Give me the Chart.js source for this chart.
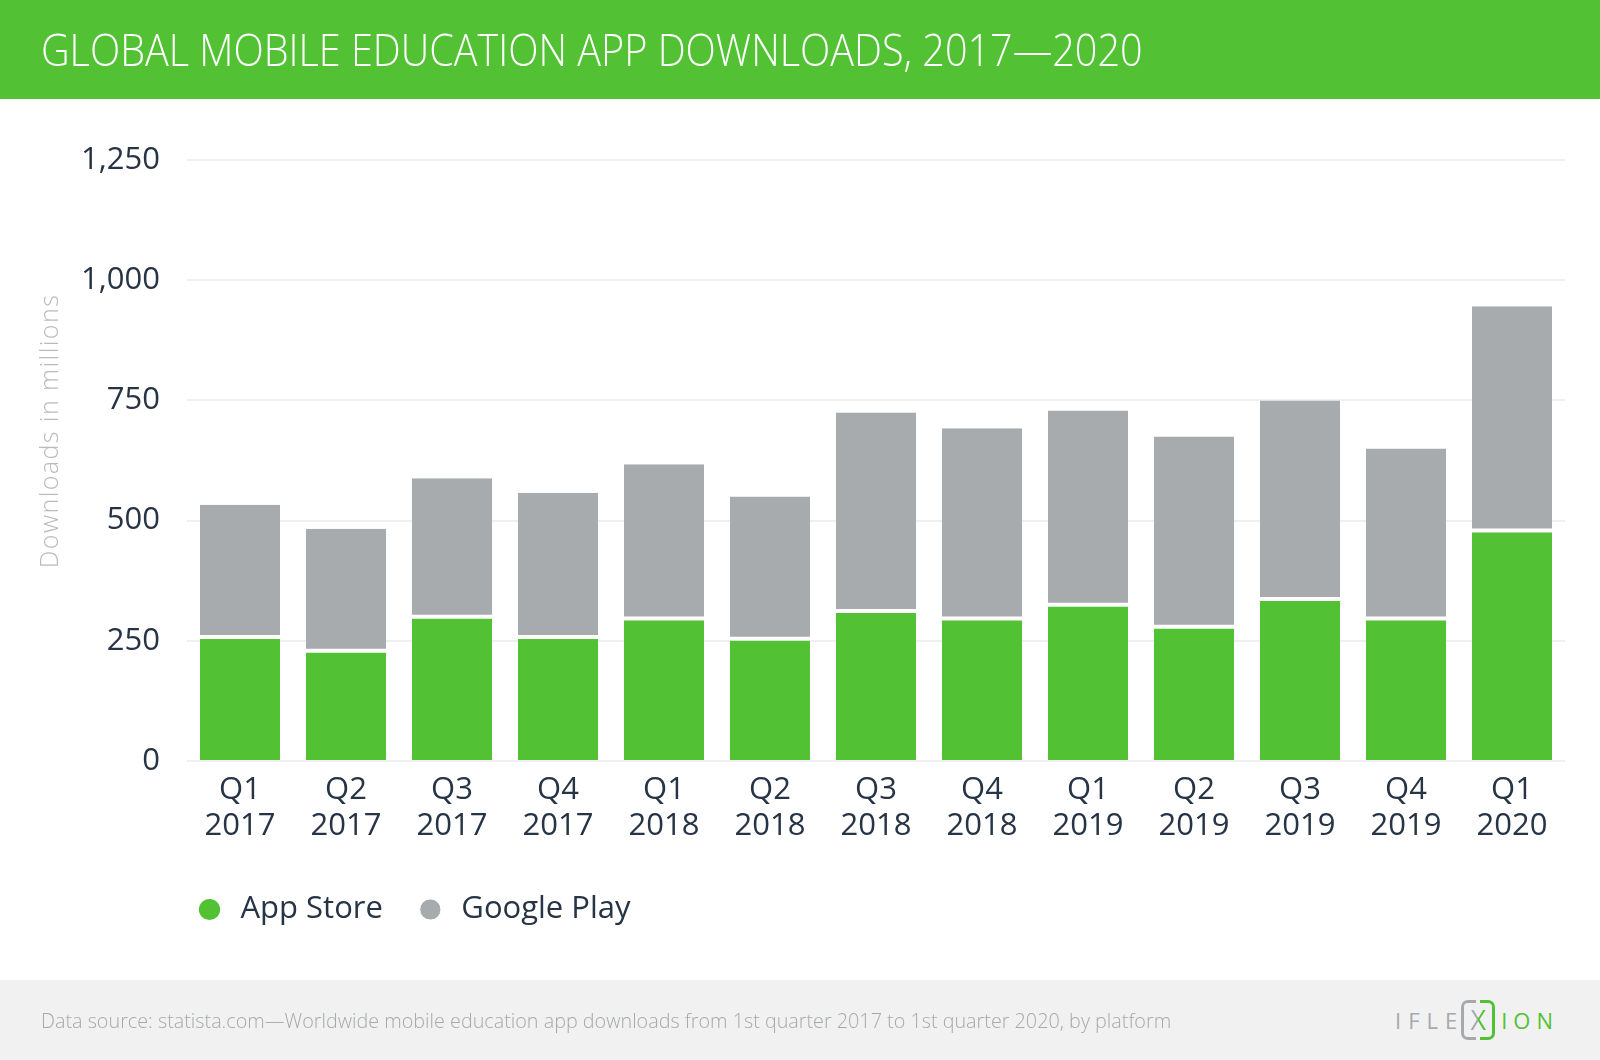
<!DOCTYPE html>
<html>
<head>
<meta charset="utf-8">
<script src="https://cdn.jsdelivr.net/npm/chart.js@4.4.1/dist/chart.umd.min.js"></script>
<style>
  html, body { margin: 0; padding: 0; background: #fff; }
  body { width: 1600px; height: 1060px; position: relative; overflow: hidden; font-family: "Open Sans", sans-serif; }
  #header { position: absolute; left: 0; top: 0; width: 1600px; height: 99px; background: #52c234; }
  #title { position: absolute; left: 41px; top: 27px; color: #fff; font-weight: 300; font-size: 45px; line-height: 44px; white-space: nowrap; transform-origin: left center; }
  #chartBox { position: absolute; left: 0; top: 100px; width: 1600px; height: 880px; }
  #footer { position: absolute; left: 0; top: 980px; width: 1600px; height: 80px; background: #f1f1f1; }
  #source { position: absolute; left: 41px; top: 31px; color: #a6a9ab; font-weight: 300; font-size: 20px; line-height: 20px; white-space: nowrap; transform-origin: left center; }
  #logo { position: absolute; left: 1395px; top: 20px; height: 40px; display: flex; align-items: center; font-size: 22px; font-weight: 400; }
  #logo .g { color: #a6a9ab; letter-spacing: 7px; }
  #logo .n { color: #52c234; letter-spacing: 6px; }
  #logo .x { position: relative; display: inline-block; width: 34px; height: 40px; margin: 0 6px 0 -3px; }
  #logo .lb { position: absolute; left: 0; top: 0; width: 12px; height: 34px; border: 3px solid #a6a9ab; border-right: none; border-radius: 7px 0 0 7px; }
  #logo .rb { position: absolute; right: 0; top: 0; width: 12px; height: 34px; border: 3px solid #52c234; border-left: none; border-radius: 0 7px 7px 0; }
  #logo .xx { position: absolute; left: 0; top: 0; width: 34px; height: 40px; line-height: 40px; text-align: center; font-size: 27px; font-weight: 400;
              background: linear-gradient(90deg, #a6a9ab 50%, #52c234 50%); -webkit-background-clip: text; background-clip: text; color: transparent; }
</style>
</head>
<body>
<div id="header"><div id="title">GLOBAL MOBILE EDUCATION APP DOWNLOADS, 2017—2020</div></div>
<div id="chartBox"><canvas id="chart"></canvas></div>
<div id="footer">
  <div id="source">Data source: statista.com—Worldwide mobile education app downloads from 1st quarter 2017 to 1st quarter 2020, by platform</div>
  <div id="logo"><span class="g">IFLE</span><span class="x"><span class="lb"></span><span class="rb"></span><span class="xx">X</span></span><span class="n">ION</span></div>
</div>
<script>
var quarters = [
  ['Q1', '2017'], ['Q2', '2017'], ['Q3', '2017'], ['Q4', '2017'],
  ['Q1', '2018'], ['Q2', '2018'], ['Q3', '2018'], ['Q4', '2018'],
  ['Q1', '2019'], ['Q2', '2019'], ['Q3', '2019'], ['Q4', '2019'],
  ['Q1', '2020']
];
// downloads in millions
var appStore   = [254, 225, 296, 254, 292, 250, 308, 292, 321, 275, 333, 292, 475];
var googlePlay = [279, 258, 292, 304, 325, 300, 417, 400, 408, 400, 417, 358, 471];
var yMax = 1250;
var yStep = 250;
var yTitle = 'Downloads in millions';

var green = '#52c234';
var grey = '#a7abae';
var textColor = '#263445';

// squeeze header / footer text to the width in the picture
function fitWidth(id, target) {
  var el = document.getElementById(id);
  el.style.transform = 'scaleX(' + (target / el.offsetWidth) + ')';
}
fitWidth('title', 1102);
fitWidth('source', 1130);

// legend starts a bit left of the plot area in the original
var legendShift = {
  id: 'legendShift',
  afterLayout: function(chart) {
    chart.legend.left -= 25;
    chart.legend.right -= 25;
  }
};

// y axis title sits above the middle of the axis, so draw it here
var yTitlePlugin = {
  id: 'yTitlePlugin',
  afterDraw: function(chart) {
    var c = chart.ctx;
    c.save();
    c.translate(51, 331);
    c.rotate(-Math.PI / 2);
    c.font = '300 25px "Open Sans"';
    var w = c.measureText(yTitle).width;
    c.letterSpacing = ((273 - w) / (yTitle.length - 1)) + 'px';
    c.fillStyle = '#b9bcbe';
    c.textAlign = 'center';
    c.textBaseline = 'middle';
    c.fillText(yTitle, 0, 0);
    c.restore();
  }
};

var ctx = document.getElementById('chart').getContext('2d');
var myChart = new Chart(ctx, {
  type: 'bar',
  data: {
    labels: quarters,
    datasets: [{
      label: 'App Store',
      data: appStore,
      backgroundColor: green,
      borderWidth: 0
    }, {
      label: 'Google Play',
      data: googlePlay,
      backgroundColor: grey,
      borderColor: '#ffffff',
      borderWidth: {top: 0, left: 0, right: 0, bottom: 4},
      borderSkipped: false
    }]
  },
  options: {
    responsive: true,
    maintainAspectRatio: false,
    animation: false,
    datasets: {
      bar: { barPercentage: 1, categoryPercentage: 0.755 }
    },
    layout: { padding: { left: 0, right: 35, top: 60, bottom: 45 } },
    plugins: {
      tooltip: { enabled: false },
      legend: {
        position: 'bottom',
        align: 'start',
        fullSize: false,
        labels: {
          usePointStyle: true,
          pointStyle: 'circle',
          boxWidth: 32,
          boxHeight: 15,
          padding: 32,
          color: textColor,
          font: { family: 'Open Sans', size: 31 }
        }
      }
    },
    scales: {
      x: {
        stacked: true,
        grid: { display: false },
        border: { display: false },
        ticks: {
          color: textColor,
          font: { family: 'Open Sans', size: 31, lineHeight: 1.16 },
          padding: 3,
          maxRotation: 0,
          autoSkip: false
        },
        afterFit: function(scale) { scale.height = 101; }
      },
      y: {
        stacked: true,
        min: 0,
        max: yMax,
        grid: { color: '#efefef', lineWidth: 2, drawTicks: false },
        border: { display: false },
        ticks: {
          stepSize: yStep,
          padding: 27,
          color: textColor,
          font: { family: 'Open Sans', size: 31 },
          callback: function(v) { return v.toLocaleString('en-US'); }
        },
        afterFit: function(scale) { scale.width = 187; }
      }
    }
  },
  plugins: [legendShift, yTitlePlugin]
});
</script>
</body>
</html>
